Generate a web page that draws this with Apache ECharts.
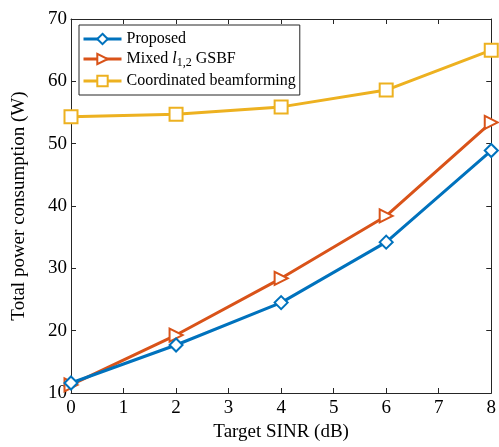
<!DOCTYPE html>
<html>
<head>
    <meta charset="UTF-8">
    <title>Power vs SINR</title>
    <script type="text/javascript" src="https://cdn.jsdelivr.net/npm/echarts@6/dist/echarts.min.js"></script>
    <style>
        body { margin: 0; background: #fff; }
        #main { width: 499px; height: 447px; }
    </style>
</head>
<body>
<div id="main"></div>
<script type="text/javascript">
    // target SINR (dB)
    var sinr = [0, 2, 4, 6, 8];
    // total power consumption (W)
    var proposed = [11.6, 17.7, 24.5, 34.2, 48.9];
    var mixedGsbf = [11.3, 19.3, 28.4, 38.4, 53.4];
    var coordinated = [54.3, 54.7, 55.9, 58.6, 65.0];

    var font = 'Liberation Serif';
    var myChart = echarts.init(document.getElementById('main'));

    function pairs(ys) {
        var out = [];
        for (var i = 0; i < sinr.length; i++) {
            out.push([sinr[i], ys[i]]);
        }
        return out;
    }

    function lineSeries(name, ys, color, symbol, rotate) {
        return {
            name: name,
            type: 'line',
            data: pairs(ys),
            symbol: symbol,
            symbolSize: 13,
            symbolRotate: rotate || 0,
            showAllSymbol: true,
            lineStyle: { color: color, width: 3 },
            itemStyle: { color: color, borderWidth: 3 },
            emphasis: { disabled: true }
        };
    }

    var axisCommon = {
        axisLine: { show: true, onZero: false, lineStyle: { color: '#262626', width: 1 } },
        axisTick: { show: true, inside: true, length: 5, lineStyle: { color: '#262626' } },
        splitLine: { show: false }
    };

    var option = {
        animation: false,
        backgroundColor: '#fff',
        grid: { left: 71, right: 6, top: 19, bottom: 51 },
        legend: {
            left: 79,
            top: 25,
            orient: 'vertical',
            backgroundColor: '#fff',
            borderColor: '#262626',
            borderWidth: 1,
            borderRadius: 0,
            padding: [6, 4, 6, 3],
            itemGap: 4,
            itemWidth: 38,
            itemHeight: 13,
            lineStyle: { width: 3 },
            textStyle: {
                fontFamily: font,
                fontSize: 16,
                color: '#000',
                rich: {
                    it: { fontFamily: font, fontSize: 16, fontStyle: 'italic', color: '#000' },
                    sub: { fontFamily: font, fontSize: 12, color: '#000', verticalAlign: 'bottom', padding: [8, 0, 0, 0] }
                }
            },
            formatter: function (name) {
                if (name === 'Mixed l12') {
                    return 'Mixed {it|l}{sub|1,2} GSBF';
                }
                return name;
            },
            data: ['Proposed', 'Mixed l12', 'Coordinated beamforming']
        },
        xAxis: [
            Object.assign({
                type: 'value',
                min: 0,
                max: 8,
                interval: 1,
                position: 'bottom',
                name: 'Target SINR (dB)',
                nameLocation: 'middle',
                nameGap: 30,
                nameTextStyle: { fontFamily: font, fontSize: 19, color: '#000' },
                axisLabel: { fontFamily: font, fontSize: 19, color: '#000', margin: 6 }
            }, axisCommon),
            Object.assign({
                type: 'value',
                min: 0,
                max: 8,
                interval: 1,
                position: 'top',
                axisLabel: { show: false }
            }, axisCommon)
        ],
        yAxis: [
            Object.assign({
                type: 'value',
                min: 10,
                max: 70,
                interval: 10,
                position: 'left',
                name: 'Total power consumption (W)',
                nameLocation: 'middle',
                nameGap: 42,
                nameTextStyle: { fontFamily: font, fontSize: 19, color: '#000' },
                axisLabel: { fontFamily: font, fontSize: 19, color: '#000', margin: 4 }
            }, axisCommon),
            Object.assign({
                type: 'value',
                min: 10,
                max: 70,
                interval: 10,
                position: 'right',
                axisLabel: { show: false }
            }, axisCommon)
        ],
        series: [
            lineSeries('Coordinated beamforming', coordinated, '#EDB120', 'emptyRect'),
            lineSeries('Mixed l12', mixedGsbf, '#D95319', 'emptyTriangle', -90),
            lineSeries('Proposed', proposed, '#0072BD', 'emptyDiamond')
        ]
    };

    myChart.setOption(option);
</script>
</body>
</html>
